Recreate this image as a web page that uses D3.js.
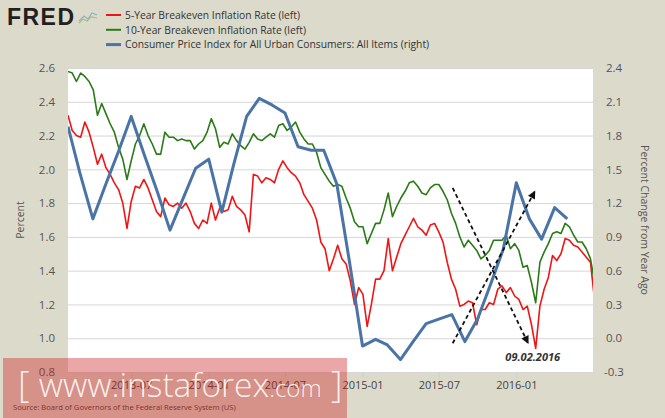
<!DOCTYPE html>
<html>
<head>
<meta charset="utf-8">
<script src="https://cdn.jsdelivr.net/npm/d3@7"></script>
<style>
  body { margin: 0; background: #dcdacb; }
  svg { display: block; font-family: "Open Sans", sans-serif; }
</style>
</head>
<body>
<div id="container"></div>
<script>
// breakeven rates, every 10 days starting at breakevenStart
var breakevenStart = "2013-02-01";
var be5Values = [
  2.32,2.23,2.20,2.19,2.28,2.22,2.13,2.03,2.09,2.01,
  1.97,1.92,1.88,1.80,1.65,1.81,1.90,1.89,1.94,1.89,
  1.82,1.75,1.72,1.83,1.79,1.78,1.80,1.77,1.80,1.75,
  1.68,1.65,1.70,1.68,1.80,1.70,1.77,1.75,1.76,1.84,
  1.78,1.76,1.73,1.63,1.97,1.96,1.92,1.95,1.94,1.92,
  2.00,2.05,2.01,1.98,1.96,1.92,1.85,1.81,1.77,1.70,
  1.57,1.53,1.40,1.47,1.55,1.47,1.44,1.34,1.20,1.30,
  1.26,1.07,1.20,1.35,1.35,1.40,1.59,1.40,1.48,1.56,
  1.61,1.66,1.71,1.66,1.64,1.61,1.67,1.68,1.63,1.57,
  1.45,1.35,1.29,1.19,1.20,1.22,1.21,1.08,1.17,1.17,
  1.21,1.20,1.29,1.31,1.27,1.30,1.25,1.23,1.17,1.19,
  1.08,0.94,1.19,1.29,1.36,1.49,1.46,1.50,1.59,1.58,
  1.55,1.54,1.51,1.48,1.45,1.22
];
var be10Values = [
  2.58,2.57,2.52,2.57,2.55,2.52,2.47,2.32,2.39,2.33,
  2.27,2.22,2.13,2.06,1.94,2.05,2.15,2.20,2.27,2.20,
  2.15,2.09,2.09,2.22,2.19,2.19,2.17,2.18,2.17,2.17,
  2.12,2.15,2.17,2.22,2.30,2.24,2.13,2.16,2.15,2.21,
  2.17,2.14,2.12,2.16,2.21,2.18,2.17,2.19,2.21,2.19,
  2.26,2.27,2.23,2.25,2.28,2.22,2.18,2.15,2.15,2.10,
  2.01,1.97,1.93,1.90,1.91,1.90,1.83,1.77,1.69,1.66,
  1.66,1.56,1.62,1.68,1.68,1.76,1.86,1.72,1.78,1.83,
  1.87,1.92,1.93,1.90,1.86,1.85,1.89,1.91,1.91,1.87,
  1.82,1.74,1.68,1.60,1.54,1.58,1.55,1.52,1.47,1.49,
  1.52,1.58,1.58,1.58,1.61,1.53,1.56,1.52,1.42,1.43,
  1.33,1.21,1.45,1.51,1.56,1.62,1.63,1.62,1.68,1.66,
  1.61,1.57,1.57,1.53,1.47,1.33
];
// CPI, percent change from year ago, monthly from cpiStart
var cpiStart = "2013-02-01";
var cpiValues = [
  1.88,1.47,1.06,1.36,1.66,1.97,1.63,1.30,0.96,1.24,1.51,
  1.59,1.12,1.54,1.97,2.13,2.07,2.00,1.70,1.67,1.67,1.37,0.68,
  -0.07,-0.01,-0.06,-0.19,-0.03,0.13,0.17,0.21,-0.03,0.17,0.48,0.79,
  1.38,1.06,0.88,1.16,1.06
];

var leftTicks = [0.8, 1.0, 1.2, 1.4, 1.6, 1.8, 2.0, 2.2, 2.4, 2.6];
var rightTicks = [-0.3, 0.0, 0.3, 0.6, 0.9, 1.2, 1.5, 1.8, 2.1, 2.4];
var xTicks = ["2013-07-01", "2014-01-01", "2014-07-01", "2015-01-01", "2015-07-01", "2016-01-01"];
var xDomain = ["2013-02-01", "2016-07-01"];

var seriesNames = ["5-Year Breakeven Inflation Rate (left)",
                   "10-Year Breakeven Inflation Rate (left)",
                   "Consumer Price Index for All Urban Consumers: All Items (right)"];
var seriesColors = ["#f01414", "#2a7a16", "#4a73a6"];
var seriesWidths = [1.6, 1.6, 3];

// hand drawn arrows (left axis units) and the date note
var arrowsFrom = [["2015-08-03", 1.89], ["2015-08-03", 0.97]];
var arrowsTo = [["2016-01-29", 0.97], ["2016-02-14", 1.87]];
var noteDate = "2016-02-09", noteValue = 0.865, noteText = "09.02.2016";

var W = 665, H = 418;
var pLeft = 68, pRight = 593, pTop = 68, pBottom = 372;
var parse = d3.utcParse("%Y-%m-%d");

var svg = d3.select("#container").append("svg").attr("width", W).attr("height", H);
svg.append("rect").attr("width", W).attr("height", H).attr("fill", "#dcdacb");

var x = d3.scaleUtc().domain(xDomain.map(parse)).range([pLeft, pRight]);
var yL = d3.scaleLinear().domain([0.8, 2.6]).range([pBottom, pTop]);
var yR = d3.scaleLinear().domain([-0.3, 2.4]).range([pBottom, pTop]);

// plot background
svg.append("rect").attr("x", pLeft).attr("y", pTop)
  .attr("width", pRight - pLeft).attr("height", pBottom - pTop).attr("fill", "#ffffff");

var defs = svg.append("defs");
defs.append("clipPath").attr("id", "plotclip").append("rect")
  .attr("x", pLeft).attr("y", pTop - 2).attr("width", pRight - pLeft).attr("height", pBottom - pTop + 4);
defs.append("marker").attr("id", "head")
  .attr("viewBox", "0 0 10 10").attr("refX", 9).attr("refY", 5)
  .attr("markerWidth", 9).attr("markerHeight", 8)
  .attr("markerUnits", "userSpaceOnUse").attr("orient", "auto")
  .append("path").attr("d", "M0,0L10,5L0,10z").attr("fill", "#111");

// gridlines
var grid = svg.append("g").attr("transform", "translate(" + pLeft + ",0)")
  .call(d3.axisLeft(yL).tickValues(leftTicks).tickSize(-(pRight - pLeft)).tickFormat(""));
grid.select(".domain").remove();
grid.selectAll("line").attr("stroke", "#d6d6d6").attr("stroke-width", 1);

// left axis labels
var gl = svg.append("g").attr("transform", "translate(" + pLeft + ",0)")
  .call(d3.axisLeft(yL).tickValues(leftTicks).tickSize(0).tickPadding(13)
    .tickFormat(function(d) { return d.toFixed(1); }));
gl.select(".domain").remove();
gl.selectAll("text").attr("fill", "#555").style("font-size", "11.5px").style("font-family", "Open Sans");

// right axis labels
var gr = svg.append("g").attr("transform", "translate(" + pRight + ",0)")
  .call(d3.axisRight(yR).tickValues(rightTicks).tickSize(0).tickPadding(21)
    .tickFormat(function(d) { return d.toFixed(1); }));
gr.select(".domain").remove();
gr.selectAll("text").attr("text-anchor", "middle").attr("fill", "#555")
  .style("font-size", "11.5px").style("font-family", "Open Sans");

// x axis
var gx = svg.append("g").attr("transform", "translate(0," + pBottom + ")")
  .call(d3.axisBottom(x).tickValues(xTicks.map(parse)).tickSize(6).tickPadding(3)
    .tickFormat(d3.utcFormat("%Y-%m")));
gx.select(".domain").remove();
gx.selectAll("line").attr("stroke", "#c3d0dd");
gx.selectAll("text").attr("fill", "#444").style("font-size", "11px").style("font-family", "Open Sans");

// axis titles
svg.append("text").attr("transform", "translate(20," + ((pTop + pBottom) / 2) + ") rotate(-90)")
  .attr("text-anchor", "middle").attr("dy", "0.35em")
  .attr("fill", "#555").style("font-size", "10.5px").text("Percent");
svg.append("text").attr("transform", "translate(645," + ((pTop + pBottom) / 2) + ") rotate(90)")
  .attr("text-anchor", "middle").attr("dy", "0.35em")
  .attr("fill", "#555").style("font-size", "10.5px").text("Percent Change from Year Ago");

// series
function toPoints(values, start, step, unit) {
  var s = parse(start);
  return values.map(function(v, i) { return { date: unit.offset(s, i * step), v: v }; });
}
var be5 = toPoints(be5Values, breakevenStart, 10, d3.utcDay);
var be10 = toPoints(be10Values, breakevenStart, 10, d3.utcDay);
var cpi = toPoints(cpiValues, cpiStart, 1, d3.utcMonth);

var plot = svg.append("g").attr("clip-path", "url(#plotclip)");
var lineL = d3.line().defined(function(d) { return d.v != null; })
  .x(function(d) { return x(d.date); }).y(function(d) { return yL(d.v); });
var lineR = d3.line()
  .x(function(d) { return x(d.date); }).y(function(d) { return yR(d.v); });

plot.append("path").datum(be5).attr("d", lineL).attr("fill", "none")
  .attr("stroke", seriesColors[0]).attr("stroke-width", seriesWidths[0]).attr("stroke-linejoin", "round");
plot.append("path").datum(be10).attr("d", lineL).attr("fill", "none")
  .attr("stroke", seriesColors[1]).attr("stroke-width", seriesWidths[1]).attr("stroke-linejoin", "round");
plot.append("path").datum(cpi).attr("d", lineR).attr("fill", "none")
  .attr("stroke", seriesColors[2]).attr("stroke-width", seriesWidths[2]).attr("stroke-linejoin", "round");

// arrows and note
arrowsFrom.forEach(function(f, i) {
  var t = arrowsTo[i];
  svg.append("line")
    .attr("x1", x(parse(f[0]))).attr("y1", yL(f[1]))
    .attr("x2", x(parse(t[0]))).attr("y2", yL(t[1]))
    .attr("stroke", "#111").attr("stroke-width", 1.8).attr("stroke-dasharray", "4,3")
    .attr("marker-end", "url(#head)");
});
svg.append("text").attr("x", x(parse(noteDate))).attr("y", yL(noteValue))
  .attr("text-anchor", "middle").attr("fill", "#333")
  .style("font-size", "11px").style("font-weight", "bold").style("font-style", "italic")
  .text(noteText);

// header: logo and legend
svg.append("text").attr("x", 7).attr("y", 25).attr("fill", "#231f20")
  .style("font-family", "Liberation Sans, Arial, sans-serif").style("font-weight", "bold")
  .style("font-size", "23px").attr("textLength", 67).text("FRED");
var icon = svg.append("g").attr("transform", "translate(79,9)");
icon.append("path").attr("d", "M0,12L5,7L9,10L13,4L18,6").attr("fill", "none")
  .attr("stroke", "#8fb0c8").attr("stroke-width", 1.2);
icon.append("path").attr("d", "M0,14L4,10L8,12L12,8L18,9").attr("fill", "none")
  .attr("stroke", "#9fc08a").attr("stroke-width", 1.2);

var legend = svg.append("g");
seriesNames.forEach(function(name, i) {
  var yy = 15 + i * 14.8;
  legend.append("line").attr("x1", 106).attr("x2", 121).attr("y1", yy).attr("y2", yy)
    .attr("stroke", seriesColors[i]).attr("stroke-width", i == 2 ? 3 : 2);
  legend.append("text").attr("x", 125).attr("y", yy + 3.8).attr("fill", "#333")
    .style("font-size", "10.3px").text(name);
});

// source + watermark
svg.append("text").attr("x", 13).attr("y", 410).attr("fill", "#444")
  .style("font-size", "7.6px").text("Source: Board of Governors of the Federal Reserve System (US)");

svg.append("rect").attr("x", 3).attr("y", 358).attr("width", 344).attr("height", H - 358)
  .attr("fill", "rgba(205,35,35,0.40)");
var wm = svg.append("text").attr("x", 18).attr("y", 397).attr("fill", "rgba(255,255,255,0.88)")
  .style("font-weight", "300");
wm.append("tspan").style("font-size", "36px").text("[ ");
wm.append("tspan").style("font-size", "33.5px").text("www.instaforex");
wm.append("tspan").style("font-size", "24px").text(".com");
wm.append("tspan").style("font-size", "36px").text(" ]");
</script>
</body>
</html>
